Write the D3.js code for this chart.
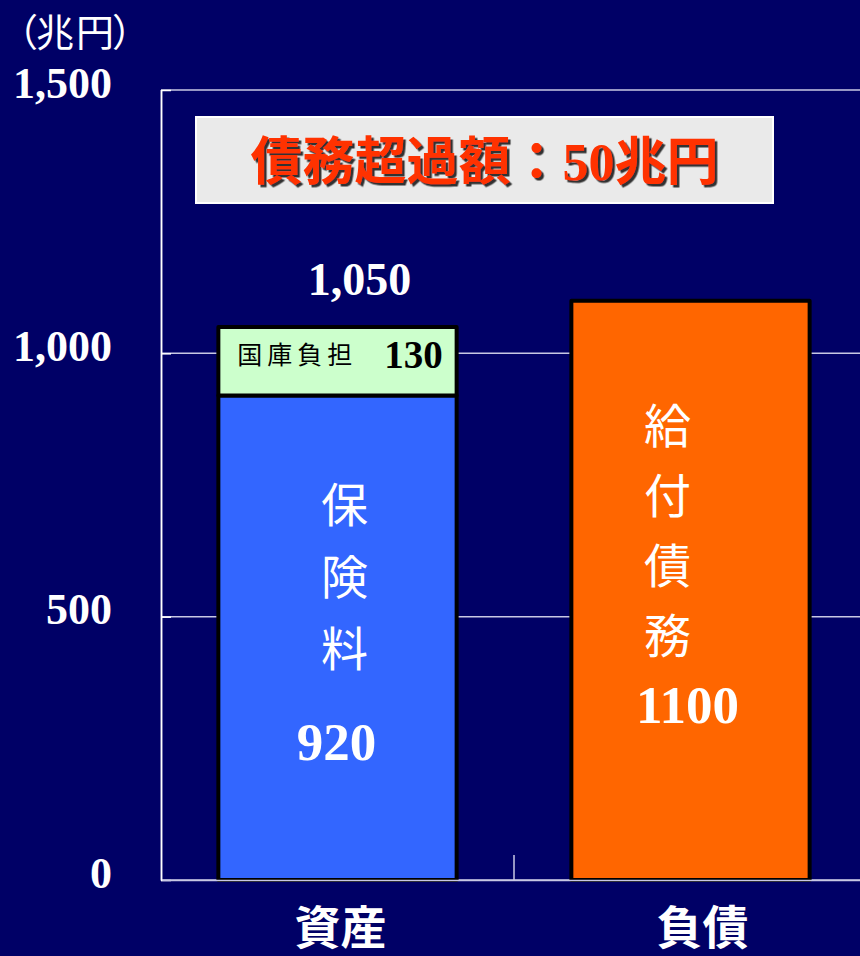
<!DOCTYPE html>
<html>
<head>
<meta charset="utf-8">
<script src="https://cdn.jsdelivr.net/npm/d3@7/dist/d3.min.js"></script>
<style>
  html, body { margin: 0; padding: 0; background: #000066; }
  svg { display: block; }
</style>
</head>
<body>
<script>
// ---- data ----
const categories = ["資産", "負債"];
const assetNames = ["保険料", "国庫負担"];
const assetValues = [920, 130];
const assetTotal = 1050;
const liabilityNames = ["給付債務"];
const liabilityValues = [1100];
const yTicks = [0, 500, 1000, 1500];
const unitLabel = "（兆円）";
const titleText = "債務超過額：50兆円";

// ---- layout ----
const W = 860, H = 956;
const FONT = "'Liberation Serif', 'Noto Sans CJK JP', serif";
const CJK = "'Noto Sans CJK JP', sans-serif";

const svg = d3.select("body").append("svg")
  .attr("width", W).attr("height", H);
svg.append("rect").attr("width", W).attr("height", H).attr("fill", "#000066");

const defs = svg.append("defs");
defs.append("filter").attr("id", "shadow")
  .attr("x", "-5%").attr("y", "-20%").attr("width", "115%").attr("height", "150%")
  .append("feDropShadow")
  .attr("dx", 2.5).attr("dy", 2.5).attr("stdDeviation", 0.4)
  .attr("flood-color", "#333333").attr("flood-opacity", 1);

const y = d3.scaleLinear().domain([0, 1500]).range([880, 90]);
const x = d3.scaleBand().domain(categories).range([161, 867]).padding(0);
const barW = x.bandwidth() * 0.675;
const barX = c => x(c) + (x.bandwidth() - barW) / 2;
const cx = c => x(c) + x.bandwidth() / 2;

// gridlines
svg.append("g").selectAll("line").data(yTicks.filter(d => d > 0)).join("line")
  .attr("x1", 161).attr("x2", W)
  .attr("y1", d => y(d)).attr("y2", d => y(d))
  .attr("stroke", "#c8c8e4").attr("stroke-width", 1.5);

// y axis
const yAxis = svg.append("g").attr("transform", "translate(161,0)")
  .call(d3.axisLeft(y).tickValues(yTicks).tickSize(-10).tickPadding(49).tickFormat(d3.format(",")));
yAxis.select(".domain").attr("stroke", "#ffffff").attr("stroke-width", 1.5)
  .attr("d", `M0.5,${y(1500)}V${y(0)}`);
yAxis.selectAll(".tick line").attr("stroke", "#ffffff").attr("stroke-width", 1.5);
yAxis.selectAll(".tick text")
  .attr("dy", null).attr("y", 7)
  .attr("fill", "#ffffff")
  .style("font-family", FONT).style("font-weight", "bold").style("font-size", "44px");

// x axis line
svg.append("line").attr("x1", 161).attr("x2", W).attr("y1", y(0)).attr("y2", y(0))
  .attr("stroke", "#c8c8e4").attr("stroke-width", 1.5);
// category divider ticks
svg.append("g").selectAll("line").data(categories.slice(1)).join("line")
  .attr("x1", d => x(d)).attr("x2", d => x(d))
  .attr("y1", y(0)).attr("y2", y(0) - 25)
  .attr("stroke", "#c8c8e4").attr("stroke-width", 1.5);

// bars: assets (stacked)
const assetColors = ["#3366ff", "#ccffcc"];
let acc = 0;
const assetSegs = assetValues.map((v, i) => {
  const s = { name: assetNames[i], y0: acc, y1: acc + v, color: assetColors[i] };
  acc += v;
  return s;
});
const gBars = svg.append("g");
gBars.selectAll("rect.asset").data(assetSegs).join("rect")
  .attr("class", "asset")
  .attr("x", barX(categories[0])).attr("width", barW)
  .attr("y", d => y(d.y1)).attr("height", d => y(d.y0) - y(d.y1))
  .attr("fill", d => d.color)
  .attr("stroke", "#000").attr("stroke-width", 4).attr("stroke-linejoin", "round");

// liabilities
gBars.selectAll("rect.liab").data(liabilityValues).join("rect")
  .attr("class", "liab")
  .attr("x", barX(categories[1])).attr("width", barW)
  .attr("y", d => y(d)).attr("height", d => y(0) - y(d))
  .attr("fill", "#ff6600")
  .attr("stroke", "#000").attr("stroke-width", 4).attr("stroke-linejoin", "round");

// re-draw axis baseline over bars' bottom edge
svg.append("line").attr("x1", 161).attr("x2", W).attr("y1", y(0) + 0.5).attr("y2", y(0) + 0.5)
  .attr("stroke", "#c8c8e4").attr("stroke-width", 1.5);
svg.append("line").attr("x1", 161.5).attr("x2", 161.5).attr("y1", y(1500)).attr("y2", y(0) + 1)
  .attr("stroke", "#ffffff").attr("stroke-width", 1.5);

// total label above asset bar
svg.append("text")
  .attr("x", cx(categories[0]) + 22).attr("y", y(assetTotal) - 32)
  .attr("text-anchor", "middle").attr("fill", "#fff")
  .style("font-family", FONT).style("font-weight", "bold").style("font-size", "46px")
  .text(d3.format(",")(assetTotal));

// 国庫負担 label
const seg2 = assetSegs[1];
svg.append("text")
  .attr("x", barX(categories[0]) + 19).attr("y", y(seg2.y1) + 37)
  .attr("fill", "#000").attr("letter-spacing", "5px")
  .style("font-family", CJK).style("font-size", "25px")
  .text(seg2.name);
svg.append("text")
  .attr("x", barX(categories[0]) + barW - 14).attr("y", y(seg2.y1) + 41)
  .attr("text-anchor", "end").attr("fill", "#000")
  .style("font-family", FONT).style("font-weight", "bold").style("font-size", "39px")
  .text(seg2.y1 - seg2.y0);

// vertical labels inside bars
function verticalLabel(name, xc, yStart, step) {
  svg.append("g").selectAll("text").data(Array.from(name)).join("text")
    .attr("x", xc).attr("y", (d, i) => yStart + i * step)
    .attr("text-anchor", "middle").attr("dominant-baseline", "central")
    .attr("fill", "#fff")
    .style("font-family", CJK).style("font-size", "47px")
    .text(d => d);
}
const seg1 = assetSegs[0];
verticalLabel(seg1.name, cx(categories[0]) + 7, y(seg1.y1) + 106, 72);
svg.append("text")
  .attr("x", cx(categories[0]) - 1).attr("y", 760)
  .attr("text-anchor", "middle").attr("fill", "#fff")
  .style("font-family", FONT).style("font-weight", "bold").style("font-size", "53px")
  .text(seg1.y1 - seg1.y0);

verticalLabel(liabilityNames[0], cx(categories[1]) - 23, y(liabilityValues[0]) + 122, 70);
svg.append("text")
  .attr("x", cx(categories[1]) - 3).attr("y", 723)
  .attr("text-anchor", "middle").attr("fill", "#fff")
  .style("font-family", FONT).style("font-weight", "bold").style("font-size", "53px")
  .text(liabilityValues[0]);

// category labels
svg.append("g").selectAll("text").data(categories).join("text")
  .attr("x", (d, i) => cx(d) + (i === 0 ? 3 : 12)).attr("y", 944)
  .attr("text-anchor", "middle").attr("fill", "#fff")
  .style("font-family", CJK).style("font-weight", "bold").style("font-size", "46px")
  .text(d => d);

// unit label
const unitChars = Array.from(unitLabel);
const unitDx = [0, -2, 2, -2];
const ut = svg.append("text")
  .attr("x", 0).attr("y", 46)
  .attr("fill", "#fff")
  .style("font-family", CJK).style("font-size", "38px");
ut.selectAll("tspan").data(unitChars).join("tspan")
  .attr("dx", (d, i) => unitDx[i])
  .text(d => d);

// title box
svg.append("rect")
  .attr("x", 196).attr("y", 117).attr("width", 577).attr("height", 86)
  .attr("fill", "#eaeaea").attr("stroke", "#ffffff").attr("stroke-width", 2);
svg.append("text")
  .attr("x", 484.5).attr("y", 180)
  .attr("text-anchor", "middle").attr("fill", "#ff3300")
  .attr("filter", "url(#shadow)")
  .style("font-family", FONT).style("font-weight", "bold").style("font-size", "52px")
  .text(titleText);
</script>
</body>
</html>
